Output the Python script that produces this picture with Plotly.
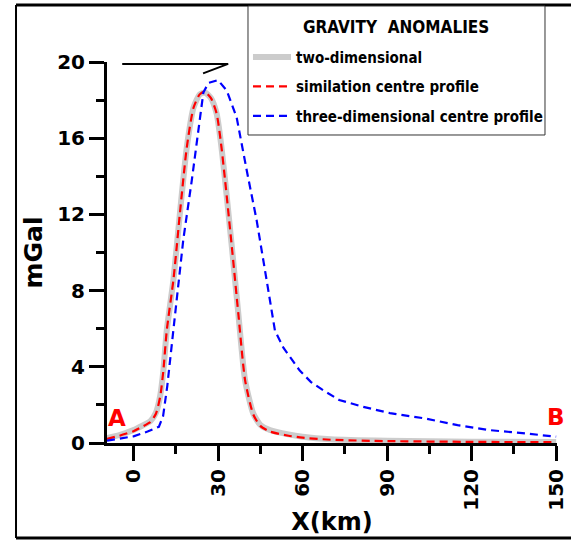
import plotly.graph_objects as go

# ---- data ----
x_2d = [-9.4, -5, 0, 3, 6, 8, 9.5, 10.6, 11.8, 14.2, 16.5, 18.9, 21.3, 23.5, 25.4, 27.5,
        29.5, 31, 32.5, 34.9, 37.2, 39.6, 42.5, 45, 48.4, 55, 60, 70, 90, 120, 150]
y_2d = [0.26, 0.42, 0.68, 0.9, 1.15, 1.6, 2.5, 3.8, 5.9, 8.6, 12.1, 15.5, 17.6, 18.3, 18.4, 18.1,
        17.3, 15.8, 13.8, 10.3, 6.8, 3.3, 1.55, 0.95, 0.68, 0.45, 0.33, 0.2, 0.12, 0.07, 0.05]

x_sim = [-9.4, -5, 0, 3, 6, 8, 9.5, 10.6, 11.8, 14.2, 16.5, 18.9, 21.3, 23.5, 25.2, 27.5,
         29.5, 31, 32.5, 34.9, 37.2, 39.6, 42.5, 45, 48.4, 55, 60, 70, 90, 120, 150]
y_sim = [0.22, 0.38, 0.62, 0.85, 1.1, 1.55, 2.45, 3.8, 5.9, 8.6, 12.1, 15.5, 17.6, 18.3, 18.45, 18.1,
         17.3, 15.8, 13.8, 10.3, 6.8, 3.3, 1.5, 0.9, 0.6, 0.38, 0.28, 0.17, 0.1, 0.06, 0.04]

x_3d = [-9.4, -4.7, 0, 5, 9, 10.5, 12, 14.8, 17.7, 20.7, 23.0, 24.8, 26.6, 30.0, 33.1, 36.6,
        40.2, 43.7, 47.3, 50.2, 53.2, 56, 59, 63, 67, 73, 81.5, 91, 103, 115, 126, 138, 150]
y_3d = [0.12, 0.22, 0.35, 0.6, 0.85, 1.4, 3.0, 6.8, 10.7, 13.8, 16.4, 18.4, 18.9, 19.05, 18.5, 17.1,
        14.3, 11.7, 8.5, 5.9, 5.0, 4.4, 3.8, 3.2, 2.8, 2.26, 1.9, 1.57, 1.3, 0.94, 0.68, 0.52, 0.33]

x_ticks = [0, 30, 60, 90, 120, 150]
y_ticks = [0, 4, 8, 12, 16, 20]

FONT = "DejaVu Sans"
NARROW = "DejaVu Sans Condensed"

fig = go.Figure()
fig.add_trace(go.Scatter(x=x_2d, y=y_2d, mode="lines", name="two-dimensional", legendgroup="g1",
                         line=dict(color="#cccccc", width=6, shape="spline", smoothing=0.6)))
fig.add_trace(go.Scatter(x=x_sim, y=y_sim, mode="lines", name="similation centre profile", legendgroup="g2",
                         line=dict(color="#ff0000", width=2.2, dash="8px,5px", shape="spline", smoothing=0.6)))
fig.add_trace(go.Scatter(x=x_3d, y=y_3d, mode="lines", name="three-dimensional centre profile", legendgroup="g3",
                         line=dict(color="#0000ff", width=2.2, dash="8px,5px")))

axis_common = dict(
    showline=True, linecolor="black", linewidth=3, mirror=False,
    ticks="outside", ticklen=15, tickwidth=3, tickcolor="black",
    showgrid=False, zeroline=False,
    tickfont=dict(family=FONT, size=20, color="black", weight="bold"),
)

fig.update_xaxes(
    range=[-9.4, 150.3], tickmode="array", tickvals=x_ticks, ticktext=[str(v) for v in x_ticks],
    tickangle=-90,
    minor=dict(ticks="outside", ticklen=8, tickwidth=3, tickcolor="black", dtick=15, tick0=15),
    title=dict(text="X(km)", font=dict(family=FONT, size=24, color="black", weight="bold"), standoff=4),
    **axis_common,
)
fig.update_yaxes(
    range=[0, 20], tickmode="array", tickvals=y_ticks, ticktext=[str(v) for v in y_ticks],
    minor=dict(ticks="outside", ticklen=8, tickwidth=3, tickcolor="black", dtick=2, tick0=2),
    title=dict(text="mGal", font=dict(family=FONT, size=25, color="black", weight="bold"), standoff=8),
    **axis_common,
)

fig.update_layout(
    width=571, height=543,
    margin=dict(l=107, r=14, t=62, b=100, autoexpand=False),
    plot_bgcolor="white", paper_bgcolor="white",
    showlegend=True,
    legend=dict(
        x=0.3133, y=1.056, xanchor="left", yanchor="top",
        bgcolor="rgba(0,0,0,0)", borderwidth=0, itemwidth=38,
        font=dict(family=NARROW, size=15, color="black", weight="bold"),
        tracegroupgap=7,
    ),
    shapes=[
        # frame
        dict(type="line", xref="paper", yref="paper", x0=-0.2022, x1=1.04, y0=1.1496, y1=1.1496,
             line=dict(color="black", width=3)),
        dict(type="line", xref="paper", yref="paper", x0=-0.2022, x1=1.04, y0=-0.2493, y1=-0.2493,
             line=dict(color="black", width=3)),
        dict(type="line", xref="paper", yref="paper", x0=-0.2022, x1=-0.2022, y0=-0.2493, y1=1.1496,
             line=dict(color="black", width=2)),
        # legend box
        dict(type="rect", xref="paper", yref="paper", x0=0.3133, x1=0.9733, y0=0.8084, y1=1.147,
             line=dict(color="#333333", width=1), fillcolor="white", layer="above"),
        # E arrow
        dict(type="path", xref="x", yref="y", path="M -4,19.9 L 33.6,19.9 L 24.7,19.4",
             line=dict(color="black", width=2)),
    ],
    annotations=[
        dict(text="GRAVITY  ANOMALIES", x=0.6422, y=1.0919, xref="paper", yref="paper",
             xanchor="center", yanchor="middle",
             showarrow=False, font=dict(family=NARROW, size=17, color="black", weight="bold")),
        dict(text="E", x=28.8, y=20.95, xref="x", yref="y", showarrow=False,
             xanchor="center", yanchor="middle",
             font=dict(family=FONT, size=26, color="black", weight="bold")),
        dict(text="A", x=-5.7, y=1.3, xref="x", yref="y", showarrow=False,
             xanchor="center", yanchor="middle",
             font=dict(family=FONT, size=23, color="#ff0000", weight="bold")),
        dict(text="B", x=150, y=1.36, xref="x", yref="y", showarrow=False,
             xanchor="center", yanchor="middle",
             font=dict(family=FONT, size=23, color="#ff0000", weight="bold")),
    ],
)

fig.write_html("out.html", config={"displayModeBar": False},
               post_script="document.body.style.margin='0';")
